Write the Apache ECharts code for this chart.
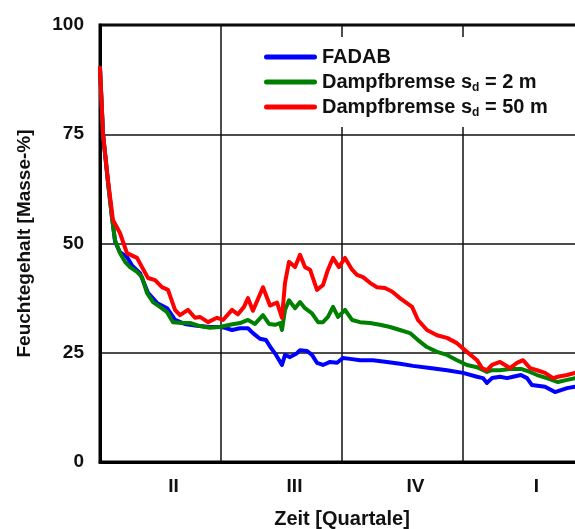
<!DOCTYPE html>
<html><head><meta charset="utf-8">
<script src="https://cdn.jsdelivr.net/npm/echarts@6/dist/echarts.min.js"></script>
<style>html,body{margin:0;padding:0;background:#fff}#c{width:575px;height:529px}</style>
</head><body><div id="c"></div>
<script>
// x in quarters (0 = start of quarter II), y in Masse-%
const quarterLabels = ['II', 'III', 'IV', 'I'];
const yTicks = [0, 25, 50, 75, 100];
const seriesNames = ['FADAB', 'Dampfbremse s_d = 2 m', 'Dampfbremse s_d = 50 m'];
const seriesColors = ['#0000ff', '#008000', '#ff0000'];

const fadab = [
  [0, 90.2], [0.025, 75], [0.066, 64], [0.099, 56], [0.124, 50.5], [0.165, 48], [0.223, 46.9],
  [0.264, 45], [0.331, 43.2], [0.397, 38.7], [0.471, 36.4], [0.554, 35.2], [0.62, 32.5],
  [0.7, 31.6], [0.8, 31.2], [0.909, 30.9], [0.992, 30.9], [1.033, 30.7], [1.091, 30.2],
  [1.157, 30.6], [1.223, 30.6], [1.264, 29.5], [1.322, 28.2], [1.372, 27.9], [1.413, 26.1],
  [1.455, 24.5], [1.504, 22.2], [1.529, 24.5], [1.57, 24], [1.628, 24.9], [1.653, 25.6],
  [1.711, 25.4], [1.752, 24.5], [1.793, 22.7], [1.843, 22.2], [1.901, 22.9], [1.959, 22.7],
  [2.008, 23.8], [2.066, 23.6], [2.149, 23.3], [2.256, 23.3], [2.372, 22.9], [2.479, 22.5],
  [2.587, 22], [2.727, 21.5], [2.868, 21], [3.0, 20.4], [3.116, 19.5], [3.165, 19.2],
  [3.198, 18.1], [3.24, 19.2], [3.306, 19.5], [3.364, 19.2], [3.413, 19.5], [3.479, 19.9],
  [3.529, 19.2], [3.57, 17.6], [3.678, 17.2], [3.76, 16], [3.86, 16.9], [3.926, 17.2], [4.0, 17.4]
];
const dampf2 = [
  [0, 90.2], [0.025, 75], [0.066, 64], [0.099, 56], [0.124, 50.8], [0.165, 47.8], [0.207, 45.8],
  [0.248, 44.6], [0.306, 43.5], [0.347, 42.3], [0.388, 38.7], [0.438, 36.6], [0.496, 35.5],
  [0.554, 34.3], [0.603, 32], [0.678, 31.8], [0.744, 31.8], [0.826, 31.1], [0.909, 30.7],
  [0.992, 30.9], [1.074, 31.4], [1.157, 31.8], [1.223, 32.5], [1.281, 31.6], [1.347, 33.6],
  [1.397, 31.6], [1.446, 31.4], [1.488, 31.8], [1.504, 30.2], [1.529, 34.8], [1.562, 37],
  [1.612, 35.2], [1.653, 36.6], [1.694, 35.2], [1.752, 34], [1.802, 32], [1.843, 32],
  [1.884, 33.2], [1.926, 35.5], [1.967, 33.2], [2.025, 34.8], [2.083, 32.5], [2.149, 32],
  [2.231, 31.8], [2.314, 31.4], [2.397, 30.9], [2.479, 30.2], [2.562, 29.5], [2.628, 27.9],
  [2.702, 26.3], [2.785, 25.2], [2.868, 24.5], [2.95, 23.3], [3.033, 22.2], [3.116, 21.7],
  [3.198, 20.6], [3.24, 21], [3.306, 21], [3.388, 21.3], [3.479, 21.3], [3.554, 20.6],
  [3.612, 19.9], [3.694, 19.2], [3.785, 18.3], [3.86, 18.8], [3.926, 19.2], [4.0, 19.4]
];
const dampf50 = [
  [0, 90.2], [0.025, 75], [0.066, 64.5], [0.107, 55.4], [0.165, 52.4], [0.223, 47.8], [0.306, 46.7],
  [0.347, 44.6], [0.397, 42.1], [0.455, 41.6], [0.512, 40], [0.562, 39.4], [0.62, 34.8],
  [0.661, 33.6], [0.727, 34.8], [0.785, 33], [0.826, 33.2], [0.893, 32], [0.967, 33],
  [1.017, 32.5], [1.091, 34.8], [1.14, 33.8], [1.19, 35.5], [1.223, 37.5], [1.264, 34.6],
  [1.347, 40], [1.405, 35.8], [1.463, 36.5], [1.504, 33], [1.529, 41], [1.562, 45.8],
  [1.612, 44.6], [1.653, 47.4], [1.694, 44.6], [1.736, 44], [1.793, 39.4], [1.843, 40.5],
  [1.884, 44], [1.926, 46.7], [1.975, 44.6], [2.025, 46.7], [2.083, 44], [2.124, 42.8],
  [2.174, 42.3], [2.231, 41], [2.289, 40], [2.355, 39.8], [2.413, 39], [2.479, 37.5],
  [2.579, 35.5], [2.628, 32.5], [2.702, 30.2], [2.785, 29], [2.868, 28.4], [2.95, 27.2],
  [3.033, 25.2], [3.116, 23.3], [3.157, 21.5], [3.198, 21], [3.24, 22.2], [3.306, 22.9],
  [3.347, 22.2], [3.388, 21.5], [3.446, 22.7], [3.496, 23.3], [3.554, 21.5], [3.612, 21],
  [3.678, 20.4], [3.744, 19.2], [3.785, 19.5], [3.86, 19.9], [3.926, 20.4], [4.0, 20.6]
];
const seriesData = [fadab, dampf2, dampf50];

const FONT = '"Liberation Sans", Arial, Helvetica, sans-serif';
const LEGEND_ICON = 'path://M2.5,0 L50.5,0 A2.5,2.5 0 0 1 50.5,5 L2.5,5 A2.5,2.5 0 0 1 2.5,0 Z';
const chart = echarts.init(document.getElementById('c'), null, {renderer: 'canvas'});

chart.setOption({
  animation: false,
  backgroundColor: '#fff',
  textStyle: {fontFamily: FONT},
  grid: {
    left: 100, top: 25, right: -9, bottom: 67,
    containLabel: false, outerBoundsMode: 'none',
    show: true, borderColor: '#000', borderWidth: 3, backgroundColor: 'transparent'
  },
  legend: {
    orient: 'vertical',
    left: 244, top: 37,
    padding: [8, 200, 8, 20],
    backgroundColor: '#fff',
    itemWidth: 53, itemHeight: 5, itemGap: 1,
    icon: LEGEND_ICON,
    data: seriesNames,
    formatter: function (name) { return name.replace('_d', '{sub|d}'); },
    textStyle: {
      fontFamily: FONT, fontSize: 20, fontWeight: 'bold', color: '#111', lineHeight: 24,
      rich: {
        sub: {fontFamily: FONT, fontSize: 12, fontWeight: 'bold', color: '#111', verticalAlign: 'bottom', lineHeight: 1}
      }
    }
  },
  xAxis: [
    {
      type: 'value', min: 0, max: 4, interval: 1,
      axisLine: {show: true, lineStyle: {color: '#000', width: 3}},
      axisTick: {show: false}, axisLabel: {show: false},
      splitLine: {show: true, lineStyle: {color: '#111', width: 1.5}}
    },
    {
      type: 'category', data: quarterLabels, gridIndex: 0, position: 'bottom',
      boundaryGap: true,
      axisLine: {show: false}, axisTick: {show: false}, splitLine: {show: false},
      axisLabel: {margin: 15, fontFamily: FONT, fontSize: 19, fontWeight: 'bold', color: '#111', padding: [0, 0, 0, 26]},
      name: 'Zeit [Quartale]', nameLocation: 'middle', nameGap: 47,
      nameTextStyle: {fontFamily: FONT, fontSize: 20, fontWeight: 'bold', color: '#111'}
    }
  ],
  yAxis: {
    type: 'value', min: yTicks[0], max: yTicks[yTicks.length - 1], interval: yTicks[1] - yTicks[0],
    axisLine: {show: true, lineStyle: {color: '#000', width: 3}},
    axisTick: {show: false},
    axisLabel: {margin: 16, fontFamily: FONT, fontSize: 19, fontWeight: 'bold', color: '#111'},
    splitLine: {show: true, lineStyle: {color: '#111', width: 1.5}},
    name: 'Feuchtegehalt [Masse-%]', nameLocation: 'middle', nameGap: 66,
    nameTextStyle: {fontFamily: FONT, fontSize: 19, fontWeight: 'bold', color: '#111'}
  },
  series: seriesNames.map(function (n, i) {
    return {
      name: n, type: 'line', xAxisIndex: 0, data: seriesData[i],
      symbol: 'none', showSymbol: false, clip: false,
      lineStyle: {color: seriesColors[i], width: 4, cap: 'round', join: 'round'},
      itemStyle: {color: seriesColors[i]},
      z: 3 + i
    };
  })
});
</script>
</body></html>
